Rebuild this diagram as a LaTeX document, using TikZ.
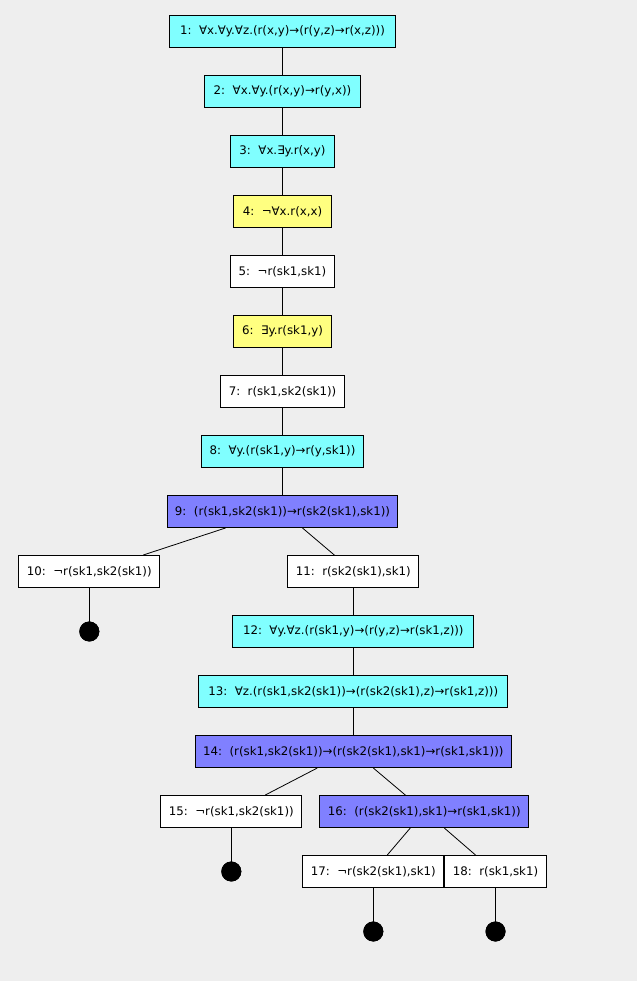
\documentclass[tikz,border=0pt]{standalone}
\usepackage{fontspec}
\setmainfont{DejaVu Sans}
\usetikzlibrary{calc}
\definecolor{bg}{RGB}{238,238,238}
\definecolor{cy}{RGB}{128,255,255}
\definecolor{ye}{RGB}{255,255,128}
\definecolor{bl}{RGB}{128,128,255}
\tikzset{
  fbox/.style={draw=black, line width=1pt, rectangle, minimum height=32pt, inner sep=0pt, font=\fontsize{11.8}{13}\selectfont, text=black},
  wbox/.style={fbox, fill=white},
  cbox/.style={fbox, fill=cy},
  ybox/.style={fbox, fill=ye},
  bbox/.style={fbox, fill=bl},
  closed/.style={circle, fill=black, draw=none, minimum size=20pt, inner sep=0pt},
  edge/.style={draw=black, line width=1pt},
  thinedge/.style={draw=black, line width=0.8pt}
}
\begin{document}
\begin{tikzpicture}[x=1pt,y=-1pt]
\fill[bg] (0,0) rectangle (637,981);
\useasboundingbox (0,0) rectangle (637,981);
% nodes
\node[cbox, minimum width=226.4pt] (n1) at (282.5,31.5) {1:\ \ ∀x.∀y.∀z.(r(x,y)→(r(y,z)→r(x,z)))};
\node[cbox, minimum width=155.4pt] (n2) at (282.5,91.5) {2:\ \ ∀x.∀y.(r(x,y)→r(y,x))};
\node[cbox, minimum width=104.4pt] (n3) at (282.5,151.5) {3:\ \ ∀x.∃y.r(x,y)};
\node[ybox, minimum width=97.4pt] (n4) at (282.5,211.5) {4:\ \ ¬∀x.r(x,x)};
\node[wbox, minimum width=104.4pt] (n5) at (282.5,271.5) {5:\ \ ¬r(sk1,sk1)};
\node[ybox, minimum width=97.4pt] (n6) at (282.5,331.5) {6:\ \ ∃y.r(sk1,y)};
\node[wbox, minimum width=123.4pt] (n7) at (282.5,391.5) {7:\ \ r(sk1,sk2(sk1))};
\node[cbox, minimum width=162.4pt] (n8) at (282.5,451.5) {8:\ \ ∀y.(r(sk1,y)→r(y,sk1))};
\node[bbox, minimum width=230.4pt] (n9) at (282.5,511.5) {9:\ \ (r(sk1,sk2(sk1))→r(sk2(sk1),sk1))};
\node[wbox, minimum width=141pt] (n10) at (89.3,571.5) {10:\ \ ¬r(sk1,sk2(sk1))};
\node[wbox, minimum width=131pt] (n11) at (353.3,571.5) {11:\ \ r(sk2(sk1),sk1)};
\node[cbox, minimum width=241pt] (n12) at (353.3,631.5) {12:\ \ ∀y.∀z.(r(sk1,y)→(r(y,z)→r(sk1,z)))};
\node[cbox, minimum width=309pt] (n13) at (353.3,691.5) {13:\ \ ∀z.(r(sk1,sk2(sk1))→(r(sk2(sk1),z)→r(sk1,z)))};
\node[bbox, minimum width=316pt] (n14) at (353.3,751.5) {14:\ \ (r(sk1,sk2(sk1))→(r(sk2(sk1),sk1)→r(sk1,sk1)))};
\node[wbox, minimum width=141pt] (n15) at (231.3,811.5) {15:\ \ ¬r(sk1,sk2(sk1))};
\node[bbox, minimum width=209pt] (n16) at (424.3,811.5) {16:\ \ (r(sk2(sk1),sk1)→r(sk1,sk1))};
\node[wbox, minimum width=141pt] (n17) at (373.3,871.5) {17:\ \ ¬r(sk2(sk1),sk1)};
\node[wbox, minimum width=102pt] (n18) at (495.5,871.5) {18:\ \ r(sk1,sk1)};
% closed-branch dots
\node[closed] (d10) at (89.3,631.5) {};
\node[closed] (d15) at (231.3,871.5) {};
\node[closed] (d17) at (373.3,931.5) {};
\node[closed] (d18) at (495.5,931.5) {};
% connectors
\draw[edge] (n1.south) -- (n2.north);
\draw[edge] (n2.south) -- (n3.north);
\draw[edge] (n3.south) -- (n4.north);
\draw[edge] (n4.south) -- (n5.north);
\draw[edge] (n5.south) -- (n6.north);
\draw[edge] (n6.south) -- (n7.north);
\draw[edge] (n7.south) -- (n8.north);
\draw[edge] (n8.south) -- (n9.north);
\draw[thinedge] ($(n9.south)+(-57,0)$) -- ($(n10.north)+(54,0)$);
\draw[thinedge] ($(n9.south)+(20,0)$) -- ($(n11.north)+(-19,0)$);
\draw[edge] (n10.south) -- (d10.center);
\draw[edge] (n11.south) -- (n12.north);
\draw[edge] (n12.south) -- (n13.north);
\draw[edge] (n13.south) -- (n14.north);
\draw[thinedge] ($(n14.south)+(-36,0)$) -- ($(n15.north)+(34,0)$);
\draw[thinedge] ($(n14.south)+(20,0)$) -- ($(n16.north)+(-19,0)$);
\draw[edge] (n15.south) -- (d15.center);
\draw[thinedge] ($(n16.south)+(-14,0)$) -- ($(n17.north)+(14,0)$);
\draw[thinedge] ($(n16.south)+(20,0)$) -- ($(n18.north)+(-20,0)$);
\draw[edge] (n17.south) -- (d17.center);
\draw[edge] (n18.south) -- (d18.center);
% redraw dots on top
\fill[black] (d10) circle (10);
\fill[black] (d15) circle (10);
\fill[black] (d17) circle (10);
\fill[black] (d18) circle (10);
\end{tikzpicture}
\end{document}
